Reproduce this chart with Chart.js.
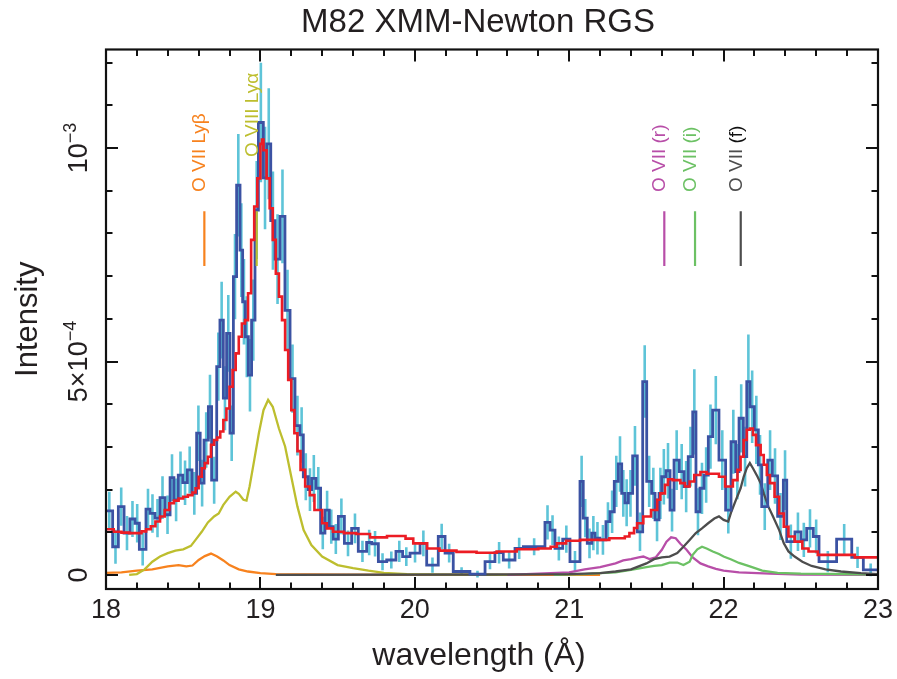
<!DOCTYPE html>
<html><head><meta charset="utf-8">
<script src="https://cdn.jsdelivr.net/npm/chart.js@4.4.1/dist/chart.umd.min.js"></script>
<style>html,body{margin:0;padding:0;background:#fff;}#wrap{width:897px;height:679px;}</style>
</head><body><div id="wrap"><canvas id="c" width="897" height="679"></canvas></div>
<script>
// ---------------- DATA (intensity in units of 1e-4) ----------------
const binEdges = [
18.000,18.043,18.080,18.117,18.155,18.188,18.216,18.259,18.285,18.317,
18.350,18.382,18.415,18.440,18.468,18.497,18.527,18.557,18.587,18.610,
18.635,18.663,18.684,18.717,18.738,18.760,18.781,18.803,18.825,18.846,
18.868,18.885,18.902,18.922,18.943,18.965,18.987,19.019,19.041,19.067,
19.095,19.127,19.159,19.192,19.224,19.256,19.278,19.310,19.332,19.360,
19.390,19.418,19.446,19.472,19.505,19.544,19.591,19.634,19.688,19.721,
19.764,19.818,19.878,19.921,19.969,20.034,20.077,20.152,20.196,20.249,
20.357,20.455,20.519,20.573,20.649,20.703,20.843,20.876,20.908,20.958,
21.005,21.070,21.091,21.117,21.146,21.167,21.199,21.238,21.264,21.292,
21.318,21.340,21.361,21.383,21.411,21.441,21.476,21.502,21.534,21.556,
21.582,21.599,21.627,21.653,21.679,21.713,21.744,21.771,21.800,21.821,
21.847,21.873,21.901,21.929,21.970,22.013,22.048,22.078,22.100,22.128,
22.150,22.171,22.199,22.225,22.247,22.286,22.316,22.350,22.387,22.409,
22.462,22.501,22.538,22.581,22.618,22.732,22.830,22.905,23.000];
const binIntensity = [
1.50,0.66,1.60,0.98,1.31,1.21,0.60,1.54,1.44,1.33,
1.81,1.41,2.28,1.76,2.34,2.16,2.46,1.91,3.32,2.15,
3.16,3.94,2.22,4.88,5.97,4.14,5.66,3.32,6.99,9.13,
7.61,6.40,5.58,4.68,5.97,8.55,10.6,9.3,10.1,8.3,
7.4,8.4,6.2,4.6,3.5,3.28,2.30,2.00,2.26,2.03,
0.98,1.52,1.13,0.84,1.37,0.74,1.09,0.55,0.76,0.73,
0.31,0.35,0.55,0.43,0.51,0.74,0.23,0.90,0.51,0.08,
0.02,0.31,0.52,0.35,0.62,0.66,1.23,1.05,0.62,0.84,
0.31,2.19,1.33,0.74,0.98,0.86,0.82,1.25,1.48,2.19,
2.60,1.91,1.69,1.91,2.79,1.01,4.53,2.19,1.91,1.29,
1.91,2.30,2.44,1.52,2.69,2.42,2.07,2.77,3.82,1.48,
2.03,2.34,3.24,3.86,2.69,1.52,3.12,2.42,3.67,2.77,
4.53,3.94,3.40,2.58,1.60,2.69,2.32,1.37,2.22,0.78,
1.01,0.82,1.09,0.90,0.31,0.84,0.41,0.12];
const binError = [
0.45,0.40,0.45,0.40,0.42,0.45,0.38,0.48,0.45,0.45,
0.50,0.45,0.55,0.50,0.55,0.52,0.55,0.50,0.65,0.55,
0.65,0.75,0.55,0.80,0.90,0.75,0.90,0.65,1.00,1.20,
1.10,1.00,0.95,0.85,0.95,1.15,1.40,1.20,1.30,1.15,
1.05,1.10,0.95,0.80,0.70,0.65,0.55,0.50,0.55,0.50,
0.38,0.45,0.40,0.35,0.42,0.30,0.35,0.25,0.30,0.30,
0.20,0.20,0.25,0.22,0.22,0.30,0.18,0.30,0.22,0.10,
0.08,0.18,0.25,0.20,0.25,0.20,0.40,0.35,0.28,0.32,
0.25,0.60,0.45,0.35,0.40,0.38,0.35,0.45,0.50,0.60,
0.65,0.55,0.55,0.55,0.70,0.45,0.85,0.60,0.60,0.50,
0.60,0.65,0.65,0.50,0.70,0.65,0.60,0.70,1.00,0.55,
0.60,0.65,0.75,0.80,0.70,0.55,0.75,0.65,0.80,0.70,
1.10,0.85,0.80,0.70,0.55,0.70,0.65,0.55,0.70,0.40,
0.45,0.40,0.45,0.40,0.25,0.35,0.25,0.15];

const modelWave = [18.00,18.05,18.10,18.15,18.20,18.23,18.26,18.29,18.32,18.35,18.38,18.41,18.44,18.47,18.50,18.53,18.56,18.58,18.60,18.62,18.64,18.66,18.68,18.70,18.72,18.74,18.76,18.78,18.80,18.82,18.84,18.86,18.88,18.90,18.92,18.94,18.96,18.98,19.00,19.01,19.02,19.04,19.06,19.08,19.10,19.12,19.14,19.16,19.18,19.20,19.22,19.24,19.26,19.29,19.32,19.35,19.40,19.43,19.47,19.54,19.62,19.71,19.80,19.82,19.90,19.94,19.99,20.08,20.16,20.27,20.40,20.53,20.66,20.80,20.88,20.92,20.98,21.07,21.26,21.36,21.39,21.42,21.44,21.48,21.53,21.57,21.59,21.62,21.64,21.67,21.72,21.75,21.78,21.81,21.85,21.89,21.93,21.97,22.01,22.04,22.06,22.09,22.11,22.13,22.15,22.17,22.19,22.21,22.24,22.26,22.28,22.30,22.33,22.36,22.39,22.42,22.46,22.51,22.55,22.61,22.72,22.85,23.00];
const modelIntensity = [1.07,1.01,0.99,0.98,0.98,1.02,1.07,1.14,1.25,1.37,1.52,1.68,1.74,1.79,1.83,1.87,1.93,2.03,2.30,2.50,2.62,2.77,3.05,3.16,3.22,3.36,3.63,3.90,4.41,4.80,5.19,5.58,5.89,5.97,6.60,7.85,8.63,9.29,10.1,10.2,9.95,9.29,8.59,7.85,7.06,6.52,5.97,5.27,4.57,3.86,3.32,2.90,2.46,2.07,1.87,1.52,1.21,1.09,1.01,0.98,0.96,0.88,0.88,0.91,0.91,0.85,0.74,0.62,0.57,0.54,0.52,0.55,0.60,0.62,0.66,0.74,0.80,0.82,0.86,0.90,0.98,1.10,1.21,1.37,1.52,1.76,1.91,2.11,2.24,2.22,2.15,2.07,2.19,2.34,2.41,2.37,2.37,2.30,2.07,2.07,2.22,2.46,2.77,3.16,3.40,3.43,3.28,3.04,2.81,2.58,2.34,2.15,1.83,1.44,1.13,0.90,0.78,0.62,0.55,0.47,0.47,0.41,0.41];

const oviiiLyaWave = [18.15,18.20,18.25,18.30,18.35,18.40,18.45,18.50,18.55,18.58,18.62,18.66,18.70,18.73,18.76,18.80,18.84,18.86,18.89,18.91,18.93,18.96,18.99,19.02,19.05,19.08,19.12,19.16,19.20,19.24,19.28,19.33,19.40,19.50,19.60,19.70,19.80,19.95,20.20,20.60];
const oviiiLyaInt  = [0.00,0.02,0.13,0.31,0.43,0.51,0.57,0.60,0.68,0.82,1.01,1.23,1.37,1.44,1.64,1.83,1.95,1.90,1.76,1.74,2.07,2.69,3.32,3.86,4.10,3.94,3.43,3.01,2.30,1.60,1.05,0.70,0.43,0.23,0.16,0.10,0.05,0.02,0.005,0.00];
const oviiLybWave = [18.00,18.10,18.20,18.30,18.40,18.47,18.52,18.56,18.60,18.64,18.68,18.72,18.76,18.80,18.86,18.92,19.00,19.10,19.30,19.60,20.00,21.20];
const oviiLybInt  = [0.05,0.06,0.10,0.13,0.20,0.23,0.20,0.22,0.35,0.44,0.50,0.43,0.34,0.23,0.13,0.08,0.04,0.02,0.01,0.005,0.00,0.00];
const oviiRWave = [20.60,20.80,21.00,21.10,21.20,21.30,21.35,21.40,21.45,21.48,21.52,21.56,21.60,21.63,21.66,21.69,21.72,21.76,21.80,21.85,21.90,21.95,22.00,22.10,22.30,22.50,23.00];
const oviiRInt  = [0.00,0.03,0.06,0.13,0.18,0.27,0.34,0.37,0.41,0.43,0.37,0.41,0.59,0.78,0.88,0.86,0.73,0.59,0.41,0.27,0.20,0.14,0.10,0.06,0.03,0.01,0.00];
const oviiIWave = [20.90,21.10,21.20,21.30,21.40,21.50,21.55,21.60,21.65,21.70,21.74,21.78,21.80,21.83,21.86,21.89,21.93,21.97,22.00,22.05,22.10,22.17,22.25,22.35,22.50,23.00];
const oviiIInt  = [0.00,0.02,0.04,0.06,0.12,0.18,0.21,0.23,0.29,0.29,0.23,0.31,0.47,0.60,0.66,0.62,0.55,0.49,0.43,0.36,0.28,0.20,0.10,0.05,0.03,0.01];
const oviiFWave = [19.10,20.50,21.00,21.20,21.30,21.40,21.45,21.50,21.55,21.60,21.65,21.70,21.74,21.78,21.82,21.86,21.90,21.94,21.97,22.00,22.03,22.05,22.08,22.11,22.13,22.15,22.17,22.19,22.22,22.24,22.26,22.29,22.32,22.36,22.39,22.42,22.46,22.51,22.57,22.66,22.76,22.89,23.00];
const oviiFInt  = [0.00,0.01,0.02,0.04,0.08,0.13,0.20,0.27,0.37,0.41,0.43,0.51,0.66,0.82,0.98,1.09,1.21,1.32,1.37,1.29,1.25,1.48,1.76,2.03,2.30,2.50,2.62,2.50,2.30,2.15,1.91,1.60,1.37,1.05,0.74,0.55,0.43,0.31,0.21,0.13,0.08,0.04,0.02];

const lineNames = ["O VII Lyβ","O VIII Lyα","O VII (r)","O VII (i)","O VII (f)"];
const lineWaves = [18.637,18.976,21.616,21.815,22.111];
const xTickValues = [18,19,20,21,22,23];
const yTickValues = [0,5,10];
const yTickMain = ["0","5×10","10"];
const yTickSup  = ["","−4","−3"];

// ---------------- STYLE / LAYOUT ----------------
const FONT = "'Liberation Sans', Arial, Helvetica, sans-serif";
const TXT = '#231f20';
const lineColors = ['#f7821e','#bdbe2e','#b84ea8','#6cc164','#4d4d4d'];
const labelStartY = [8.97,9.79,8.97,8.97,8.97];
const markerSpan = [7.24,8.52];

function histPoints(edges, vals){
  const p=[];
  for(let i=0;i<vals.length;i++){ p.push({x:edges[i],y:vals[i]}); p.push({x:edges[i+1],y:vals[i]}); }
  return p;
}
function stepPoints(xs, ys){
  const p=[];
  for(let i=0;i<xs.length;i++){ p.push({x:xs[i],y:ys[i]}); if(i<xs.length-1) p.push({x:xs[i+1],y:ys[i]}); }
  return p;
}
function curve(xs, ys){ return xs.map((x,i)=>({x:x,y:ys[i]})); }
function errPoints(edges, vals, errs){
  const p=[];
  for(let i=0;i<vals.length;i++){
    const c=(edges[i]+edges[i+1])/2;
    p.push({x:c,y:vals[i]-errs[i]}); p.push({x:c,y:vals[i]+errs[i]}); p.push({x:c,y:null});
  }
  return p;
}
const base = {showLine:true,pointRadius:0,pointHoverRadius:0,fill:false,tension:0,borderCapStyle:'butt',borderJoinStyle:'miter'};
const markerSets = lineWaves.map((w,i)=>Object.assign({},base,{
  label:'marker '+lineNames[i],
  data:[{x:w,y:markerSpan[0]},{x:w,y:markerSpan[1]}],
  borderColor:lineColors[i], borderWidth:2.2}));

const datasets = [
  Object.assign({},base,{label:'model',data:stepPoints(modelWave,modelIntensity),borderColor:'#ec1c24',borderWidth:2.6}),
  ...markerSets,
  Object.assign({},base,{label:'data',data:histPoints(binEdges,binIntensity),borderColor:'#3b52a3',borderWidth:2.8}),
  Object.assign({},base,{label:'O VII (f)',data:curve(oviiFWave,oviiFInt),borderColor:lineColors[4],borderWidth:2.3}),
  Object.assign({},base,{label:'O VII (i)',data:curve(oviiIWave,oviiIInt),borderColor:lineColors[3],borderWidth:2.3}),
  Object.assign({},base,{label:'O VII (r)',data:curve(oviiRWave,oviiRInt),borderColor:lineColors[2],borderWidth:2.3}),
  Object.assign({},base,{label:'O VIII Lya',data:curve(oviiiLyaWave,oviiiLyaInt),borderColor:lineColors[1],borderWidth:2.3}),
  Object.assign({},base,{label:'O VII Lyb',data:curve(oviiLybWave,oviiLybInt),borderColor:lineColors[0],borderWidth:2.3}),
  Object.assign({},base,{label:'errors',data:errPoints(binEdges,binIntensity,binError),borderColor:'#5ec4d8',borderWidth:2.6,spanGaps:false})
];

function vText(ctx, str, px, py, align){
  ctx.save(); ctx.translate(px,py); ctx.rotate(-Math.PI/2);
  ctx.textAlign=align; ctx.textBaseline='alphabetic'; ctx.fillText(str,0,0); ctx.restore();
}

const decor = {
  id:'decor',
  afterDatasetsDraw(chart){
    const {ctx, chartArea:a, scales:{x,y}} = chart;
    ctx.save();
    // ticks (inward, all four sides)
    ctx.strokeStyle='#111'; ctx.lineWidth=2;
    ctx.beginPath();
    for(let i=0;i<=25;i++){
      const v=18+i*0.2, px=Math.round(x.getPixelForValue(v))+0.0;
      const L=(i%5===0)?12:6.5;
      ctx.moveTo(px,a.bottom); ctx.lineTo(px,a.bottom-L);
      ctx.moveTo(px,a.top); ctx.lineTo(px,a.top+L);
    }
    for(let v=0;v<=12;v++){
      const py=Math.round(y.getPixelForValue(v));
      const L=(v%5===0)?12:6.5;
      ctx.moveTo(a.left,py); ctx.lineTo(a.left+L,py);
      ctx.moveTo(a.right,py); ctx.lineTo(a.right-L,py);
    }
    ctx.stroke();
    ctx.lineWidth=2.2;
    ctx.strokeRect(a.left,a.top,a.right-a.left,a.bottom-a.top);
    // title
    ctx.fillStyle=TXT;
    ctx.font='33px '+FONT; ctx.textAlign='center'; ctx.textBaseline='alphabetic';
    ctx.fillText('M82 XMM-Newton RGS',478,32);
    // x tick labels
    ctx.font='27px '+FONT;
    xTickValues.forEach(v=>ctx.fillText(String(v),x.getPixelForValue(v),618));
    // x title
    ctx.font='32px '+FONT;
    ctx.fillText('wavelength (Å)',479,665);
    // y title
    ctx.font='31px '+FONT;
    vText(ctx,'Intensity',37,(a.top+a.bottom)/2,'center');
    // y tick labels with superscripts
    const fs=27, ss=18;
    yTickValues.forEach((v,k)=>{
      const py=y.getPixelForValue(v);
      ctx.save(); ctx.translate(87,py); ctx.rotate(-Math.PI/2);
      ctx.textAlign='left';
      ctx.font=fs+'px '+FONT; const wm=ctx.measureText(yTickMain[k]).width;
      ctx.font=ss+'px '+FONT; const ws=yTickSup[k]?ctx.measureText(yTickSup[k]).width:0;
      const st=-(wm+ws)/2;
      ctx.font=fs+'px '+FONT; ctx.fillText(yTickMain[k],st,0);
      if(yTickSup[k]){ ctx.font=ss+'px '+FONT; ctx.fillText(yTickSup[k],st+wm,-fs*0.42); }
      ctx.restore();
    });
    // line labels
    ctx.font='19px '+FONT;
    lineNames.forEach((n,i)=>{
      const px=x.getPixelForValue(lineWaves[i])+1, py=y.getPixelForValue(labelStartY[i]);
      if(i===4){
        ctx.save(); ctx.translate(px,py); ctx.rotate(-Math.PI/2); ctx.textAlign='left';
        ctx.fillStyle=lineColors[4]; ctx.fillText('O VII ',0,0);
        const w=ctx.measureText('O VII ').width;
        ctx.fillStyle='#111'; ctx.fillText('(f)',w,0); ctx.restore();
      } else {
        ctx.fillStyle=lineColors[i]; vText(ctx,n,px,py,'left');
      }
    });
    ctx.restore();
  }
};

new Chart(document.getElementById('c'),{
  type:'scatter',
  data:{datasets},
  options:{
    responsive:false, animation:false, devicePixelRatio:1,
    layout:{padding:{left:106,right:19,top:49.5,bottom:90}},
    plugins:{legend:{display:false},tooltip:{enabled:false},title:{display:false}},
    scales:{
      x:{type:'linear',min:18,max:23,display:false},
      y:{type:'linear',min:-0.33,max:12.31,display:false}
    }
  },
  plugins:[decor]
});
</script></body></html>
